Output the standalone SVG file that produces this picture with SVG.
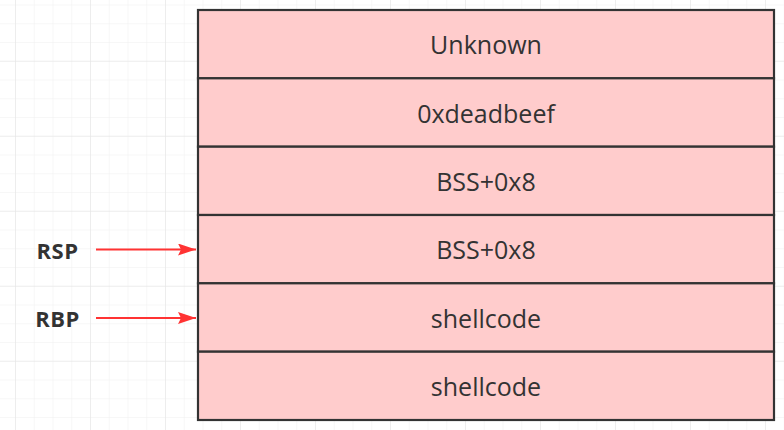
<svg xmlns="http://www.w3.org/2000/svg" width="784" height="430" viewBox="0 0 784 430">
<defs>
<pattern id="minor" x="15" y="4.5" width="18.75" height="18.75" patternUnits="userSpaceOnUse">
<path d="M0 0H18.75M0 0V18.75" fill="none" stroke="#f0f0f0" stroke-width="1"/>
</pattern>
<pattern id="major" x="15" y="-14.25" width="75" height="75" patternUnits="userSpaceOnUse">
<path d="M0 0H75M0 0V75" fill="none" stroke="#e4e4e4" stroke-width="1"/>
</pattern>
<marker id="arr" viewBox="0 0 18 12" refX="18" refY="6" markerWidth="9" markerHeight="6" markerUnits="strokeWidth" orient="auto">
<path d="M0 0L18 6L0 12L3 6Z" fill="#ff3333"/>
</marker>
</defs>
<style>
.cell{fill:#ffcccc;stroke:#333333;stroke-width:2.2}
.t{font-family:"Open Sans","Noto Sans",sans-serif;font-size:25px;fill:#333333;text-anchor:middle;dominant-baseline:central}
.lbl{font-family:"Open Sans","Noto Sans",sans-serif;font-size:22px;font-weight:bold;fill:#333333;text-anchor:middle;dominant-baseline:central;letter-spacing:0.5px}
.ar{stroke:#ff3333;stroke-width:2;fill:none}
</style>
<rect width="784" height="430" fill="#ffffff"/>
<rect width="784" height="430" fill="url(#minor)"/>
<rect width="784" height="430" fill="url(#major)"/>
<g id="cell1"><rect class="cell" x="198" y="10" width="576" height="68.3"/><text class="t" x="486" y="44.2">Unknown</text></g>
<g id="cell2"><rect class="cell" x="198" y="78.3" width="576" height="68.4"/><text class="t" x="486" y="112.5">0xdeadbeef</text></g>
<g id="cell3"><rect class="cell" x="198" y="146.7" width="576" height="68.3"/><text class="t" x="486" y="180.8">BSS+0x8</text></g>
<g id="cell4"><rect class="cell" x="198" y="215" width="576" height="68.3"/><text class="t" x="486" y="249.2">BSS+0x8</text></g>
<g id="cell5"><rect class="cell" x="198" y="283.3" width="576" height="68.4"/><text class="t" x="486" y="317.5">shellcode</text></g>
<g id="cell6"><rect class="cell" x="198" y="351.7" width="576" height="68.3"/><text class="t" x="486" y="385.8">shellcode</text></g>
<g id="rsp"><text class="lbl" x="57.5" y="249.5">RSP</text></g>
<g id="rbp"><text class="lbl" x="57.5" y="318">RBP</text></g>
<g id="connectors">
<line class="ar" x1="96" y1="249.5" x2="196" y2="249.5" marker-end="url(#arr)"/>
<line class="ar" x1="96" y1="318" x2="196" y2="318" marker-end="url(#arr)"/>
</g>
</svg>
